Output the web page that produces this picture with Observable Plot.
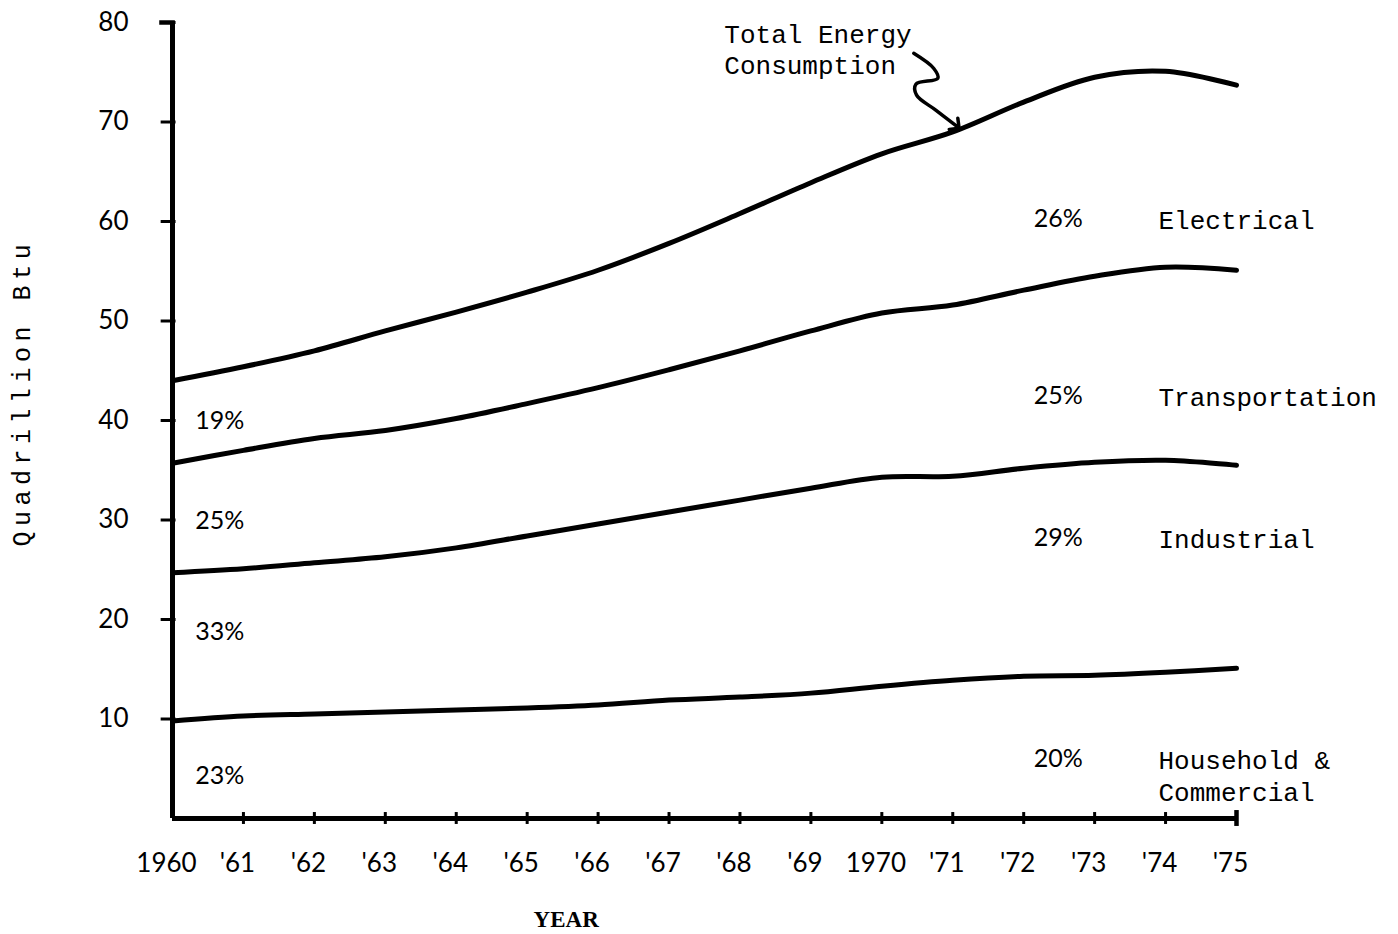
<!DOCTYPE html>
<html>
<head>
<meta charset="utf-8">
<script src="https://cdn.jsdelivr.net/npm/d3@7"></script>
<script src="https://cdn.jsdelivr.net/npm/@observablehq/plot@0.6"></script>
<style>
  html, body { margin: 0; padding: 0; background: #fff; }
</style>
</head>
<body>
<div id="chart"></div>
<script>
// ---- data (quadrillion Btu, cumulative boundaries of stacked sectors) ----
const years = [1960,1961,1962,1963,1964,1965,1966,1967,1968,1969,1970,1971,1972,1973,1974,1975];
const xTickLabels = ["1960","'61","'62","'63","'64","'65","'66","'67","'68","'69","1970","'71","'72","'73","'74","'75"];
const yTicks = [10,20,30,40,50,60,70,80];

// top of Household & Commercial
const householdTop      = [9.8,10.3,10.5,10.7,10.9,11.1,11.4,11.9,12.2,12.6,13.3,13.9,14.3,14.4,14.7,15.1];
// top of Industrial
const industrialTop     = [24.7,25.1,25.7,26.3,27.2,28.4,29.6,30.8,32.0,33.2,34.3,34.4,35.2,35.8,36.0,35.5];
// top of Transportation
const transportationTop = [35.7,37.0,38.2,39.0,40.2,41.7,43.3,45.1,47.0,49.0,50.8,51.6,53.1,54.5,55.4,55.1];
// Total energy consumption (top of Electrical)
const totalEnergy       = [44.0,45.4,47.0,49.0,50.9,52.9,55.1,57.8,60.8,63.9,66.8,69.0,72.0,74.5,75.1,73.7];

const sectorNames  = ["Electrical","Transportation","Industrial","Household &\nCommercial"];
const shares1960   = ["19%","25%","33%","23%"];
const shares1975   = ["26%","25%","29%","20%"];
const annotation   = "Total Energy\nConsumption";
const yLabel       = "Quadrillion Btu";
const xLabel       = "YEAR";

// ---- build tables ----
const series = [
  {name: "Household & Commercial", values: householdTop},
  {name: "Industrial", values: industrialTop},
  {name: "Transportation", values: transportationTop},
  {name: "Total", values: totalEnergy}
];
const lineData = series.flatMap(s => years.map((yr, i) => ({series: s.name, year: yr, value: s.values[i]})));

// label anchor levels (data units)
const leftLabelLevel  = [40.0, 29.9, 18.7, 4.3];
const rightShareLevel = [60.3, 42.5, 28.2, 6.0];
const rightNameLevel  = [60.3, 42.5, 28.2, 4.4];
const leftRows  = shares1960.map((t, i) => ({t, y: leftLabelLevel[i]}));
const shareRows = shares1975.map((t, i) => ({t, y: rightShareLevel[i]}));
const nameRows  = sectorNames.map((t, i) => ({t, y: rightNameLevel[i]}));

// squiggly pointer from annotation to the total line (data units)
const pointer = [
  {x: 1970.45, y: 76.9}, {x: 1970.73, y: 75.4}, {x: 1970.79, y: 74.4},
  {x: 1970.48, y: 73.8}, {x: 1970.49, y: 72.7}, {x: 1970.76, y: 71.2},
  {x: 1971.05, y: 69.6}
];

const mono = "'Liberation Mono', 'DejaVu Sans Mono', monospace";
const sans = "Lato, 'DejaVu Sans', sans-serif";
const serif = "'Liberation Serif', 'DejaVu Serif', serif";

const chart = Plot.plot({
  width: 1398,
  height: 934,
  marginLeft: 172,
  marginRight: 162,
  marginTop: 22,
  marginBottom: 116,
  style: {background: "#fff", color: "#000", fontFamily: sans, overflow: "visible"},
  x: {domain: [1960, 1975]},
  y: {domain: [0, 80]},
  marks: [
    // tick labels
    Plot.axisY({ticks: yTicks, tickSize: 0, tickPadding: 44, fontSize: 26, fontFamily: sans, label: null}),
    Plot.axisX({ticks: years, tickSize: 0, tickPadding: 35, fontSize: 26, fontFamily: sans, dx: -6,
                tickFormat: d => xTickLabels[years.indexOf(d)], label: null}),
    // axis lines
    Plot.ruleX([1960], {x: d => d, y1: 0, y2: 80, strokeWidth: 5, stroke: "#000"}),
    Plot.ruleY([0], {y: d => d, x1: 1960, x2: 1975, strokeWidth: 5, stroke: "#000"}),
    // y tick crosses and top cap
    Plot.ruleY(yTicks, {y: d => d, x1: 1959.84, x2: 1960.05, strokeWidth: 3, stroke: "#000"}),
    Plot.ruleY([80], {y: d => d, x1: 1959.82, x2: 1960.04, strokeWidth: 4.5, stroke: "#000"}),
    // x tick crosses
    Plot.ruleX(years.slice(1), {x: d => d, y1: -0.6, y2: 0.6, strokeWidth: 3, stroke: "#000"}),
    Plot.ruleX([1975], {x: d => d, y1: -0.8, y2: 0.8, strokeWidth: 4.5, stroke: "#000"}),
    // data lines
    Plot.line(lineData, {x: "year", y: "value", z: "series", curve: "catmull-rom",
                         stroke: "#000", strokeWidth: 5, strokeLinecap: "round"}),
    // share labels
    Plot.text(leftRows, {x: () => 1960.32, y: "y", text: "t", textAnchor: "start",
                         fontSize: 25, fontFamily: sans}),
    Plot.text(shareRows, {x: () => 1972.14, y: "y", text: "t", textAnchor: "start",
                          fontSize: 25, fontFamily: sans}),
    Plot.text(nameRows, {x: () => 1973.9, y: "y", text: "t", textAnchor: "start",
                         lineAnchor: "middle", lineHeight: 1.25, fontSize: 26, fontFamily: mono}),
    // annotation
    Plot.text([annotation], {x: () => 1967.78, y: () => 77.4, text: d => d, textAnchor: "start",
                             lineAnchor: "middle", lineHeight: 1.2, fontSize: 26, fontFamily: mono}),
    Plot.line(pointer, {x: "x", y: "y", curve: "catmull-rom", stroke: "#000", strokeWidth: 3.5,
                        markerEnd: "arrow"}),
    // axis titles
    Plot.text([yLabel], {x: () => 1957.885, y: () => 42.8, text: d => d, rotate: -90,
                         fontSize: 25, fontFamily: mono}),
    Plot.text([xLabel], {frameAnchor: "bottom", x: () => 1965.55, text: d => d, dy: 108,
                         fontSize: 23, fontFamily: serif, fontWeight: 600})
  ]
});

// wide typewriter spacing on the y title
d3.select(chart).selectAll("text").filter(function() { return this.textContent === yLabel; })
  .attr("letter-spacing", "5.5px");

document.getElementById("chart").appendChild(chart);
</script>
</body>
</html>
